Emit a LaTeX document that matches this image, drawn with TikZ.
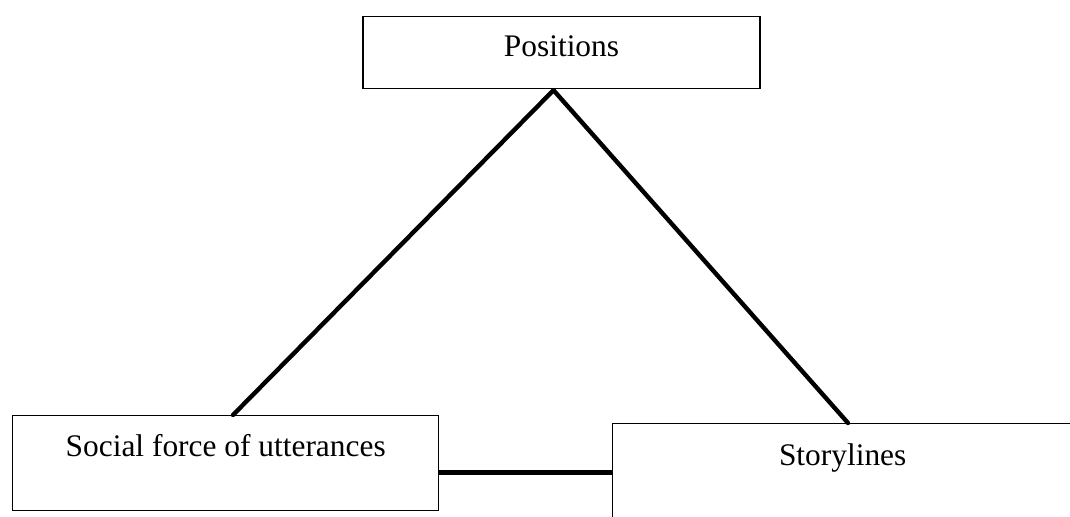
\documentclass[tikz,border=0pt]{standalone}
\usepackage{fontspec}
\setmainfont{Liberation Serif}
\usepackage{tikz}
\tikzset{
    box/.style={
        draw, line width=0.7pt, inner sep=0pt,
        font=\fontsize{15.7}{19}\selectfont
    },
    link/.style={line width=2.2pt, line cap=round}
}

\begin{document}
\begin{tikzpicture}[x=0.5pt, y=-0.5pt]
		\useasboundingbox (0,0) rectangle (1070,517);

		% boxes
		\node[box, anchor=north, minimum width=198.5pt, text height=20pt, text depth=16pt] (pos) at (561.5,16) {Positions};
		\node[box, anchor=north west, minimum width=213pt, text height=20.5pt, text depth=27pt] (social) at (12,415) {Social force of utterances};
		\node[box, anchor=north west, minimum width=230pt, text height=21pt, text depth=27.5pt] (story) at (612,423) {Storylines};

		% meeting points
		\coordinate (apex) at ([xshift=-4pt, yshift=-0.4pt]pos.south);
		\coordinate (socialtop) at ([xshift=110.5pt]social.north west);
		\coordinate (storytop) at ([xshift=118pt]story.north west);

		% triangle
		\draw[link] (apex) -- (socialtop);
		\draw[link] (apex) -- (storytop);
		\draw[link, line width=2.5pt, line cap=butt] (story.west) -- (social.east |- story.west);
\end{tikzpicture}
\end{document}
